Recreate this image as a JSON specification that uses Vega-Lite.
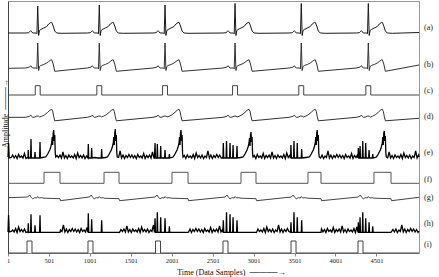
{
"$schema": "https://vega.github.io/schema/vega-lite/v6.json",
"width": 411, "height": 252,
"autosize": {"type": "none"},
"padding": {"left": 8, "top": 1, "right": 20, "bottom": 24},
"background": "white",
"config": {"view": {"stroke": "#999", "strokeWidth": 1}, "axis": {"labelFont": "Liberation Serif", "titleFont": "Liberation Serif", "grid": false}, "text": {"font": "Liberation Serif"}},
"datasets": {
"a": [{"t":1,"v":220},
{"t":217,"v":220},{"t":254,"v":220.3},{"t":266,"v":221.2},{"t":279,"v":222.3},{"t":291,"v":221.2},{"t":303,"v":220},{"t":346,"v":220},{"t":354,"v":219.2},{"t":364,"v":247},{"t":375,"v":217.5},{"t":386,"v":222.5},{"t":401,"v":223.5},{"t":437,"v":225},{"t":474,"v":226.5},{"t":498,"v":229},{"t":523,"v":230.5},{"t":535,"v":230.7},{"t":553,"v":227},{"t":572,"v":222},{"t":596,"v":220},{"t":657,"v":219.7},
{"t":969,"v":220},{"t":1006,"v":220.3},{"t":1018,"v":221.2},{"t":1031,"v":222.3},{"t":1043,"v":221.2},{"t":1055,"v":220},{"t":1098,"v":220},{"t":1106,"v":219.2},{"t":1116,"v":248},{"t":1127,"v":217.5},{"t":1138,"v":222.5},{"t":1153,"v":223.5},{"t":1189,"v":225},{"t":1226,"v":226.5},{"t":1250,"v":229},{"t":1275,"v":230.5},{"t":1287,"v":230.7},{"t":1305,"v":227},{"t":1324,"v":222},{"t":1348,"v":220},{"t":1409,"v":219.7},
{"t":1772,"v":220},{"t":1809,"v":220.3},{"t":1821,"v":221.2},{"t":1834,"v":222.3},{"t":1846,"v":221.2},{"t":1858,"v":220},{"t":1901,"v":220},{"t":1909,"v":219.2},{"t":1919,"v":248},{"t":1930,"v":217.5},{"t":1941,"v":222.5},{"t":1956,"v":223.5},{"t":1992,"v":225},{"t":2029,"v":226.5},{"t":2053,"v":229},{"t":2078,"v":230.5},{"t":2090,"v":230.7},{"t":2108,"v":227},{"t":2127,"v":222},{"t":2151,"v":220},{"t":2212,"v":219.7},
{"t":2627,"v":220},{"t":2664,"v":220.3},{"t":2676,"v":221.2},{"t":2689,"v":222.3},{"t":2701,"v":221.2},{"t":2713,"v":220},{"t":2756,"v":220},{"t":2764,"v":219.2},{"t":2774,"v":249.5},{"t":2785,"v":217.5},{"t":2796,"v":222.5},{"t":2811,"v":223.5},{"t":2847,"v":225},{"t":2884,"v":226.5},{"t":2908,"v":229},{"t":2933,"v":230.5},{"t":2945,"v":230.7},{"t":2963,"v":227},{"t":2982,"v":222},{"t":3006,"v":220},{"t":3067,"v":219.7},
{"t":3436,"v":220},{"t":3473,"v":220.3},{"t":3485,"v":221.2},{"t":3498,"v":222.3},{"t":3510,"v":221.2},{"t":3522,"v":220},{"t":3565,"v":220},{"t":3573,"v":219.2},{"t":3583,"v":249.5},{"t":3594,"v":217.5},{"t":3605,"v":222.5},{"t":3620,"v":223.5},{"t":3656,"v":225},{"t":3693,"v":226.5},{"t":3717,"v":229},{"t":3742,"v":230.5},{"t":3754,"v":230.7},{"t":3772,"v":227},{"t":3791,"v":222},{"t":3815,"v":220},{"t":3876,"v":219.7},
{"t":4255,"v":220},{"t":4292,"v":220.3},{"t":4304,"v":221.2},{"t":4317,"v":222.3},{"t":4329,"v":221.2},{"t":4341,"v":220},{"t":4384,"v":220},{"t":4392,"v":219.2},{"t":4402,"v":249.5},{"t":4413,"v":217.5},{"t":4424,"v":222.5},{"t":4439,"v":223.5},{"t":4475,"v":225},{"t":4512,"v":226.5},{"t":4536,"v":229},{"t":4561,"v":230.5},{"t":4573,"v":230.7},{"t":4591,"v":227},{"t":4610,"v":222},{"t":4634,"v":220},{"t":4695,"v":219.7},
{"t":5021,"v":220.5}],
"b": [{"t":1,"v":184.7},
{"t":217,"v":185},{"t":266,"v":186},{"t":279,"v":187.3},{"t":291,"v":186},{"t":303,"v":185},{"t":346,"v":185},{"t":354,"v":184.2},{"t":364,"v":210},{"t":375,"v":182.5},{"t":386,"v":186.5},{"t":401,"v":187.5},{"t":437,"v":188.5},{"t":474,"v":190},{"t":498,"v":191.5},{"t":523,"v":193},{"t":535,"v":193.2},{"t":553,"v":189},{"t":572,"v":181.7},
{"t":969,"v":185},{"t":1018,"v":186},{"t":1031,"v":187.3},{"t":1043,"v":186},{"t":1055,"v":185},{"t":1098,"v":185},{"t":1106,"v":184.2},{"t":1116,"v":210},{"t":1127,"v":182.5},{"t":1138,"v":186.5},{"t":1153,"v":187.5},{"t":1189,"v":188.5},{"t":1226,"v":190},{"t":1250,"v":191.5},{"t":1275,"v":193},{"t":1287,"v":193.2},{"t":1305,"v":189},{"t":1324,"v":181.7},
{"t":1772,"v":185},{"t":1821,"v":186},{"t":1834,"v":187.3},{"t":1846,"v":186},{"t":1858,"v":185},{"t":1901,"v":185},{"t":1909,"v":184.2},{"t":1919,"v":210},{"t":1930,"v":182.5},{"t":1941,"v":186.5},{"t":1956,"v":187.5},{"t":1992,"v":188.5},{"t":2029,"v":190},{"t":2053,"v":191.5},{"t":2078,"v":193},{"t":2090,"v":193.2},{"t":2108,"v":189},{"t":2127,"v":181.7},
{"t":2627,"v":185},{"t":2676,"v":186},{"t":2689,"v":187.3},{"t":2701,"v":186},{"t":2713,"v":185},{"t":2756,"v":185},{"t":2764,"v":184.2},{"t":2774,"v":210},{"t":2785,"v":182.5},{"t":2796,"v":186.5},{"t":2811,"v":187.5},{"t":2847,"v":188.5},{"t":2884,"v":190},{"t":2908,"v":191.5},{"t":2933,"v":193},{"t":2945,"v":193.2},{"t":2963,"v":189},{"t":2982,"v":181.7},
{"t":3436,"v":185},{"t":3485,"v":186},{"t":3498,"v":187.3},{"t":3510,"v":186},{"t":3522,"v":185},{"t":3565,"v":185},{"t":3573,"v":184.2},{"t":3583,"v":210},{"t":3594,"v":182.5},{"t":3605,"v":186.5},{"t":3620,"v":187.5},{"t":3656,"v":188.5},{"t":3693,"v":190},{"t":3717,"v":191.5},{"t":3742,"v":193},{"t":3754,"v":193.2},{"t":3772,"v":189},{"t":3791,"v":181.7},
{"t":4255,"v":185},{"t":4304,"v":186},{"t":4317,"v":187.3},{"t":4329,"v":186},{"t":4341,"v":185},{"t":4384,"v":185},{"t":4392,"v":184.2},{"t":4402,"v":210},{"t":4413,"v":182.5},{"t":4424,"v":186.5},{"t":4439,"v":187.5},{"t":4475,"v":188.5},{"t":4512,"v":190},{"t":4536,"v":191.5},{"t":4561,"v":193},{"t":4573,"v":193.2},{"t":4591,"v":189},{"t":4610,"v":181.7},
{"t":5021,"v":188}],
"c": [{"t":1,"v":158},{"t":334,"v":158},{"t":334,"v":167.3},{"t":394,"v":167.3},{"t":394,"v":158},{"t":1086,"v":158},{"t":1086,"v":167.3},{"t":1146,"v":167.3},{"t":1146,"v":158},{"t":1889,"v":158},{"t":1889,"v":167.3},{"t":1949,"v":167.3},{"t":1949,"v":158},{"t":2744,"v":158},{"t":2744,"v":167.3},{"t":2804,"v":167.3},{"t":2804,"v":158},{"t":3553,"v":158},{"t":3553,"v":167.3},{"t":3613,"v":167.3},{"t":3613,"v":158},{"t":4372,"v":158},{"t":4372,"v":167.3},{"t":4432,"v":167.3},{"t":4432,"v":158},{"t":5021,"v":158}],
"d": [{"t":1,"v":135.7},
{"t":217,"v":135.7},{"t":266,"v":136.7},{"t":279,"v":138},{"t":291,"v":136.5},{"t":303,"v":135.7},{"t":327,"v":135.9},{"t":352,"v":136.9},{"t":376,"v":136.9},{"t":388,"v":136},{"t":413,"v":136.7},{"t":449,"v":138.2},{"t":486,"v":140.7},{"t":511,"v":142.7},{"t":535,"v":143.7},{"t":547,"v":141.7},{"t":559,"v":136.7},{"t":572,"v":132.2},
{"t":969,"v":135.7},{"t":1018,"v":136.7},{"t":1031,"v":138},{"t":1043,"v":136.5},{"t":1055,"v":135.7},{"t":1079,"v":135.9},{"t":1104,"v":136.9},{"t":1128,"v":136.9},{"t":1140,"v":136},{"t":1165,"v":136.7},{"t":1201,"v":138.2},{"t":1238,"v":140.7},{"t":1263,"v":142.7},{"t":1287,"v":143.7},{"t":1299,"v":141.7},{"t":1311,"v":136.7},{"t":1324,"v":132.2},
{"t":1772,"v":135.7},{"t":1821,"v":136.7},{"t":1834,"v":138},{"t":1846,"v":136.5},{"t":1858,"v":135.7},{"t":1882,"v":135.9},{"t":1907,"v":136.9},{"t":1931,"v":136.9},{"t":1943,"v":136},{"t":1968,"v":136.7},{"t":2004,"v":138.2},{"t":2041,"v":140.7},{"t":2066,"v":142.7},{"t":2090,"v":143.7},{"t":2102,"v":141.7},{"t":2114,"v":136.7},{"t":2127,"v":132.2},
{"t":2627,"v":135.7},{"t":2676,"v":136.7},{"t":2689,"v":138},{"t":2701,"v":136.5},{"t":2713,"v":135.7},{"t":2737,"v":135.9},{"t":2762,"v":136.9},{"t":2786,"v":136.9},{"t":2798,"v":136},{"t":2823,"v":136.7},{"t":2859,"v":138.2},{"t":2896,"v":140.7},{"t":2921,"v":142.7},{"t":2945,"v":143.7},{"t":2957,"v":141.7},{"t":2969,"v":136.7},{"t":2982,"v":132.2},
{"t":3436,"v":135.7},{"t":3485,"v":136.7},{"t":3498,"v":138},{"t":3510,"v":136.5},{"t":3522,"v":135.7},{"t":3546,"v":135.9},{"t":3571,"v":136.9},{"t":3595,"v":136.9},{"t":3607,"v":136},{"t":3632,"v":136.7},{"t":3668,"v":138.2},{"t":3705,"v":140.7},{"t":3730,"v":142.7},{"t":3754,"v":143.7},{"t":3766,"v":141.7},{"t":3778,"v":136.7},{"t":3791,"v":132.2},
{"t":4255,"v":135.7},{"t":4304,"v":136.7},{"t":4317,"v":138},{"t":4329,"v":136.5},{"t":4341,"v":135.7},{"t":4365,"v":135.9},{"t":4390,"v":136.9},{"t":4414,"v":136.9},{"t":4426,"v":136},{"t":4451,"v":136.7},{"t":4487,"v":138.2},{"t":4524,"v":140.7},{"t":4549,"v":142.7},{"t":4573,"v":143.7},{"t":4585,"v":141.7},{"t":4597,"v":136.7},{"t":4610,"v":132.2},
{"t":5021,"v":134.7}],
"e": [{"t":1,"v":96},{"t":8,"v":110},{"t":16,"v":95},
{"t":40,"v":95.5},{"t":58,"v":98},{"t":76,"v":95},{"t":94,"v":97.5},{"t":112,"v":94.5},{"t":130,"v":98.5},{"t":148,"v":95.5},{"t":166,"v":97},{"t":184,"v":95},{"t":202,"v":99.5},{"t":220,"v":94.5},
{"t":238,"v":95.5},{"t":244,"v":95},{"t":249,"v":103},{"t":254,"v":95},{"t":277,"v":95},{"t":282,"v":114},{"t":287,"v":95},{"t":326,"v":95},{"t":331,"v":101},{"t":336,"v":95},{"t":387,"v":95},{"t":392,"v":111},{"t":397,"v":95},{"t":420,"v":95.5},
{"t":462,"v":96},{"t":486,"v":99},{"t":498,"v":101},{"t":511,"v":103},{"t":523,"v":106},{"t":535,"v":110},{"t":541,"v":116},{"t":547,"v":108},{"t":553,"v":120},{"t":559,"v":123},{"t":566,"v":112},{"t":572,"v":118},{"t":578,"v":100},{"t":584,"v":96},
{"t":600,"v":97.5},{"t":618,"v":95.5},{"t":636,"v":98},{"t":654,"v":95},{"t":672,"v":101},{"t":690,"v":95},{"t":708,"v":97.5},{"t":726,"v":94.5},{"t":744,"v":98},{"t":762,"v":95.5},{"t":780,"v":97},{"t":798,"v":95},{"t":816,"v":98.5},{"t":834,"v":94.5},{"t":852,"v":100},{"t":870,"v":95.5},{"t":888,"v":97.5},{"t":906,"v":95},{"t":924,"v":98},{"t":942,"v":94.5},{"t":960,"v":97},
{"t":977,"v":95},{"t":982,"v":109},{"t":987,"v":95},{"t":1018,"v":95},{"t":1023,"v":105},{"t":1028,"v":95},{"t":1060,"v":95.5},{"t":1100,"v":95},{"t":1140,"v":95},{"t":1145,"v":104},{"t":1150,"v":95},{"t":1190,"v":95.5},
{"t":1214,"v":96},{"t":1238,"v":99},{"t":1250,"v":101},{"t":1263,"v":103},{"t":1275,"v":106},{"t":1287,"v":110},{"t":1293,"v":116},{"t":1299,"v":108},{"t":1305,"v":120},{"t":1311,"v":124},{"t":1318,"v":112},{"t":1324,"v":118},{"t":1330,"v":100},{"t":1336,"v":96},
{"t":1352,"v":95.5},{"t":1370,"v":102},{"t":1388,"v":95},{"t":1406,"v":98},{"t":1424,"v":94.5},{"t":1442,"v":97.5},{"t":1460,"v":95.5},{"t":1478,"v":98.5},{"t":1496,"v":95.5},{"t":1514,"v":98},{"t":1532,"v":95},{"t":1550,"v":97.5},{"t":1568,"v":94.5},{"t":1586,"v":98.5},{"t":1604,"v":95.5},{"t":1622,"v":97},{"t":1640,"v":95},{"t":1658,"v":99.5},{"t":1676,"v":94.5},{"t":1694,"v":97.5},{"t":1712,"v":95.5},{"t":1730,"v":98},{"t":1748,"v":95},{"t":1766,"v":101},{"t":1784,"v":95},
{"t":1790,"v":95},{"t":1797,"v":110},{"t":1802,"v":95},{"t":1820,"v":95},{"t":1825,"v":109},{"t":1830,"v":95},{"t":1861,"v":95},{"t":1866,"v":107},{"t":1871,"v":95},{"t":1914,"v":95},{"t":1919,"v":103},{"t":1924,"v":95},{"t":1967,"v":95},{"t":1972,"v":99},{"t":1977,"v":95},{"t":2000,"v":95.5},
{"t":2017,"v":96},{"t":2041,"v":99},{"t":2053,"v":101},{"t":2066,"v":103},{"t":2078,"v":106},{"t":2090,"v":110},{"t":2096,"v":116},{"t":2102,"v":108},{"t":2108,"v":120},{"t":2114,"v":123},{"t":2121,"v":112},{"t":2127,"v":118},{"t":2133,"v":100},{"t":2139,"v":96},
{"t":2155,"v":97.5},{"t":2173,"v":94.5},{"t":2191,"v":98},{"t":2209,"v":95.5},{"t":2227,"v":97},{"t":2245,"v":95},{"t":2263,"v":98.5},{"t":2281,"v":94.5},{"t":2299,"v":100},{"t":2317,"v":95.5},{"t":2335,"v":97.5},{"t":2353,"v":95},{"t":2371,"v":98},{"t":2389,"v":94.5},{"t":2407,"v":97},{"t":2425,"v":95.5},{"t":2443,"v":102},{"t":2461,"v":95},{"t":2479,"v":98},{"t":2497,"v":94.5},{"t":2515,"v":97.5},{"t":2533,"v":95.5},{"t":2551,"v":98.5},{"t":2569,"v":95.5},{"t":2587,"v":98},{"t":2605,"v":95},
{"t":2626,"v":95},{"t":2631,"v":110},{"t":2636,"v":95},{"t":2665,"v":95},{"t":2670,"v":112},{"t":2675,"v":95},{"t":2708,"v":95},{"t":2713,"v":110},{"t":2718,"v":95},{"t":2745,"v":95},{"t":2750,"v":108},{"t":2755,"v":95},{"t":2793,"v":95},{"t":2798,"v":107},{"t":2803,"v":95},{"t":2840,"v":95.5},
{"t":2872,"v":96},{"t":2896,"v":99},{"t":2908,"v":101},{"t":2921,"v":103},{"t":2933,"v":106},{"t":2945,"v":110},{"t":2951,"v":115},{"t":2957,"v":107},{"t":2963,"v":118},{"t":2969,"v":121},{"t":2976,"v":111},{"t":2982,"v":116},{"t":2988,"v":100},{"t":2994,"v":96},
{"t":3010,"v":97.5},{"t":3028,"v":94.5},{"t":3046,"v":98.5},{"t":3064,"v":95.5},{"t":3082,"v":97},{"t":3100,"v":95},{"t":3118,"v":99.5},{"t":3136,"v":94.5},{"t":3154,"v":97.5},{"t":3172,"v":95.5},{"t":3190,"v":98},{"t":3208,"v":95},{"t":3226,"v":101},{"t":3244,"v":95},{"t":3262,"v":97.5},{"t":3280,"v":94.5},{"t":3298,"v":98},{"t":3316,"v":95.5},{"t":3334,"v":97},{"t":3352,"v":95},{"t":3370,"v":98.5},{"t":3388,"v":94.5},{"t":3406,"v":100},{"t":3424,"v":95.5},{"t":3442,"v":97.5},
{"t":3452,"v":95},{"t":3457,"v":108},{"t":3462,"v":95},{"t":3489,"v":95},{"t":3494,"v":112},{"t":3499,"v":95},{"t":3529,"v":95},{"t":3534,"v":110},{"t":3539,"v":95},{"t":3583,"v":95},{"t":3588,"v":104},{"t":3593,"v":95},{"t":3640,"v":95.5},
{"t":3681,"v":96},{"t":3705,"v":99},{"t":3717,"v":101},{"t":3730,"v":103},{"t":3742,"v":106},{"t":3754,"v":110},{"t":3760,"v":116},{"t":3766,"v":108},{"t":3772,"v":120},{"t":3778,"v":123},{"t":3785,"v":112},{"t":3791,"v":118},{"t":3797,"v":100},{"t":3803,"v":96},
{"t":3819,"v":95},{"t":3837,"v":98},{"t":3855,"v":94.5},{"t":3873,"v":97},{"t":3891,"v":95.5},{"t":3909,"v":102},{"t":3927,"v":95},{"t":3945,"v":98},{"t":3963,"v":94.5},{"t":3981,"v":97.5},{"t":3999,"v":95.5},{"t":4017,"v":98.5},{"t":4035,"v":95.5},{"t":4053,"v":98},{"t":4071,"v":95},{"t":4089,"v":97.5},{"t":4107,"v":94.5},{"t":4125,"v":98.5},{"t":4143,"v":95.5},{"t":4161,"v":97},{"t":4179,"v":95},{"t":4197,"v":99.5},{"t":4215,"v":94.5},{"t":4233,"v":97.5},{"t":4251,"v":95.5},{"t":4269,"v":98},
{"t":4275,"v":95},{"t":4280,"v":105},{"t":4285,"v":95},{"t":4296,"v":95},{"t":4301,"v":107},{"t":4306,"v":95},{"t":4329,"v":95},{"t":4334,"v":112},{"t":4339,"v":95},{"t":4365,"v":95},{"t":4370,"v":110},{"t":4375,"v":95},{"t":4406,"v":95},{"t":4411,"v":103},{"t":4416,"v":95},{"t":4451,"v":95},{"t":4456,"v":99},{"t":4461,"v":95},{"t":4490,"v":95.5},
{"t":4500,"v":96},{"t":4524,"v":99},{"t":4536,"v":101},{"t":4549,"v":103},{"t":4561,"v":106},{"t":4573,"v":110},{"t":4579,"v":116},{"t":4585,"v":108},{"t":4591,"v":120},{"t":4597,"v":122},{"t":4604,"v":112},{"t":4610,"v":117},{"t":4616,"v":100},{"t":4622,"v":96},
{"t":4638,"v":95},{"t":4656,"v":101},{"t":4674,"v":95},{"t":4692,"v":97.5},{"t":4710,"v":94.5},{"t":4728,"v":98},{"t":4746,"v":95.5},{"t":4764,"v":97},{"t":4782,"v":95},{"t":4800,"v":98.5},{"t":4818,"v":94.5},{"t":4836,"v":100},{"t":4854,"v":95.5},{"t":4872,"v":97.5},{"t":4890,"v":95},{"t":4908,"v":98},{"t":4926,"v":94.5},{"t":4944,"v":97},{"t":4962,"v":95.5},{"t":4980,"v":102},{"t":4998,"v":95},{"t":5016,"v":98},
{"t":5021,"v":96}],
"f": [{"t":1,"v":69.7},{"t":441,"v":69.7},{"t":441,"v":80.7},{"t":636,"v":80.7},{"t":636,"v":69.7},{"t":1174,"v":69.7},{"t":1174,"v":80.7},{"t":1357,"v":80.7},{"t":1357,"v":69.7},{"t":2004,"v":69.7},{"t":2004,"v":80.7},{"t":2200,"v":80.7},{"t":2200,"v":69.7},{"t":2847,"v":69.7},{"t":2847,"v":80.7},{"t":3030,"v":80.7},{"t":3030,"v":69.7},{"t":3665,"v":69.7},{"t":3665,"v":80.7},{"t":3824,"v":80.7},{"t":3824,"v":69.7},{"t":4471,"v":69.7},{"t":4471,"v":80.7},{"t":4679,"v":80.7},{"t":4679,"v":69.7},{"t":5021,"v":69.7}],
"g": [{"t":1,"v":55.3},
{"t":242,"v":56},{"t":266,"v":58},{"t":285,"v":55.5},{"t":303,"v":54.2},{"t":327,"v":55.3},{"t":352,"v":55},{"t":364,"v":56.5},{"t":382,"v":55},{"t":413,"v":55.3},{"t":441,"v":54.8},{"t":636,"v":54.3},{"t":642,"v":52.3},
{"t":994,"v":56},{"t":1018,"v":58},{"t":1037,"v":55.5},{"t":1055,"v":54.2},{"t":1079,"v":55.3},{"t":1104,"v":55},{"t":1116,"v":56.5},{"t":1134,"v":55},{"t":1165,"v":55.3},{"t":1174,"v":54.8},{"t":1357,"v":54.3},{"t":1363,"v":52.3},
{"t":1797,"v":56},{"t":1821,"v":58},{"t":1840,"v":55.5},{"t":1858,"v":54.2},{"t":1882,"v":55.3},{"t":1907,"v":55},{"t":1919,"v":56.5},{"t":1937,"v":55},{"t":1968,"v":55.3},{"t":2004,"v":54.8},{"t":2200,"v":54.3},{"t":2206,"v":52.3},
{"t":2652,"v":56},{"t":2676,"v":58},{"t":2695,"v":55.5},{"t":2713,"v":54.2},{"t":2737,"v":55.3},{"t":2762,"v":55},{"t":2774,"v":56.5},{"t":2792,"v":55},{"t":2823,"v":55.3},{"t":2847,"v":54.8},{"t":3030,"v":54.3},{"t":3036,"v":52.3},
{"t":3461,"v":56},{"t":3485,"v":58},{"t":3504,"v":55.5},{"t":3522,"v":54.2},{"t":3546,"v":55.3},{"t":3571,"v":55},{"t":3583,"v":56.5},{"t":3601,"v":55},{"t":3632,"v":55.3},{"t":3665,"v":54.8},{"t":3824,"v":54.3},{"t":3830,"v":52.3},
{"t":4280,"v":56},{"t":4304,"v":58},{"t":4323,"v":55.5},{"t":4341,"v":54.2},{"t":4365,"v":55.3},{"t":4390,"v":55},{"t":4402,"v":56.5},{"t":4420,"v":55},{"t":4451,"v":55.3},{"t":4471,"v":54.8},{"t":4679,"v":54.3},{"t":4685,"v":52.3},
{"t":5021,"v":55.7}],
"h": [{"t":1,"v":21},{"t":8,"v":38},{"t":16,"v":21},
{"t":40,"v":21.5},{"t":58,"v":23},{"t":76,"v":21},{"t":94,"v":24.5},{"t":112,"v":20.5},{"t":130,"v":26},{"t":148,"v":21.5},{"t":166,"v":23.5},{"t":184,"v":21},{"t":202,"v":24},{"t":220,"v":20.5},
{"t":238,"v":21},{"t":244,"v":20.7},{"t":249,"v":29.7},{"t":254,"v":20.7},{"t":277,"v":20.7},{"t":282,"v":38.7},{"t":287,"v":20.7},{"t":326,"v":20.7},{"t":331,"v":27.7},{"t":336,"v":20.7},{"t":387,"v":20.7},{"t":392,"v":37.7},{"t":397,"v":20.7},{"t":636,"v":20.7},
{"t":642,"v":23},{"t":660,"v":21.5},{"t":678,"v":28},{"t":696,"v":21},{"t":714,"v":24},{"t":732,"v":20.5},{"t":750,"v":23.5},{"t":768,"v":21.5},{"t":786,"v":24.5},{"t":804,"v":21.5},{"t":822,"v":24},{"t":840,"v":21},{"t":858,"v":23.5},{"t":876,"v":20.5},{"t":894,"v":24.5},{"t":912,"v":21.5},{"t":930,"v":23},{"t":948,"v":21},{"t":966,"v":25.5},
{"t":977,"v":20.7},{"t":982,"v":39.7},{"t":987,"v":20.7},{"t":1018,"v":20.7},{"t":1023,"v":33.7},{"t":1028,"v":20.7},{"t":1140,"v":20.7},{"t":1145,"v":32.7},{"t":1150,"v":20.7},{"t":1357,"v":20.7},
{"t":1363,"v":20.5},{"t":1381,"v":23.5},{"t":1399,"v":21.5},{"t":1417,"v":24},{"t":1435,"v":21},{"t":1453,"v":27},{"t":1471,"v":21},{"t":1489,"v":23.5},{"t":1507,"v":20.5},{"t":1525,"v":24},{"t":1543,"v":21.5},{"t":1561,"v":23},{"t":1579,"v":21},{"t":1597,"v":24.5},{"t":1615,"v":20.5},{"t":1633,"v":26},{"t":1651,"v":21.5},{"t":1669,"v":23.5},{"t":1687,"v":21},{"t":1705,"v":24},{"t":1723,"v":20.5},{"t":1741,"v":23},{"t":1759,"v":21.5},{"t":1777,"v":28},
{"t":1790,"v":20.7},{"t":1797,"v":34.7},{"t":1802,"v":20.7},{"t":1820,"v":20.7},{"t":1825,"v":40.7},{"t":1830,"v":20.7},{"t":1861,"v":20.7},{"t":1866,"v":35.7},{"t":1871,"v":20.7},{"t":1914,"v":20.7},{"t":1919,"v":34.7},{"t":1924,"v":20.7},{"t":1967,"v":20.7},{"t":1972,"v":26.7},{"t":1977,"v":20.7},{"t":2200,"v":20.7},
{"t":2206,"v":21},{"t":2224,"v":24},{"t":2242,"v":20.5},{"t":2260,"v":23.5},{"t":2278,"v":21.5},{"t":2296,"v":24.5},{"t":2314,"v":21.5},{"t":2332,"v":24},{"t":2350,"v":21},{"t":2368,"v":23.5},{"t":2386,"v":20.5},{"t":2404,"v":24.5},{"t":2422,"v":21.5},{"t":2440,"v":23},{"t":2458,"v":21},{"t":2476,"v":25.5},{"t":2494,"v":20.5},{"t":2512,"v":23.5},{"t":2530,"v":21.5},{"t":2548,"v":24},{"t":2566,"v":21},{"t":2584,"v":27},{"t":2602,"v":21},{"t":2620,"v":23.5},
{"t":2626,"v":20.7},{"t":2631,"v":32.7},{"t":2636,"v":20.7},{"t":2665,"v":20.7},{"t":2670,"v":40.7},{"t":2675,"v":20.7},{"t":2708,"v":20.7},{"t":2713,"v":38.7},{"t":2718,"v":20.7},{"t":2745,"v":20.7},{"t":2750,"v":35.7},{"t":2755,"v":20.7},{"t":2793,"v":20.7},{"t":2798,"v":32.7},{"t":2803,"v":20.7},{"t":3030,"v":20.7},
{"t":3036,"v":20.5},{"t":3054,"v":24},{"t":3072,"v":21.5},{"t":3090,"v":23},{"t":3108,"v":21},{"t":3126,"v":24.5},{"t":3144,"v":20.5},{"t":3162,"v":26},{"t":3180,"v":21.5},{"t":3198,"v":23.5},{"t":3216,"v":21},{"t":3234,"v":24},{"t":3252,"v":20.5},{"t":3270,"v":23},{"t":3288,"v":21.5},{"t":3306,"v":28},{"t":3324,"v":21},{"t":3342,"v":24},{"t":3360,"v":20.5},{"t":3378,"v":23.5},{"t":3396,"v":21.5},{"t":3414,"v":24.5},{"t":3432,"v":21.5},
{"t":3452,"v":20.7},{"t":3457,"v":30.7},{"t":3462,"v":20.7},{"t":3489,"v":20.7},{"t":3494,"v":40.7},{"t":3499,"v":20.7},{"t":3529,"v":20.7},{"t":3534,"v":35.7},{"t":3539,"v":20.7},{"t":3583,"v":20.7},{"t":3588,"v":32.7},{"t":3593,"v":20.7},{"t":3824,"v":20.7},
{"t":3830,"v":24},{"t":3848,"v":21},{"t":3866,"v":23.5},{"t":3884,"v":20.5},{"t":3902,"v":24.5},{"t":3920,"v":21.5},{"t":3938,"v":23},{"t":3956,"v":21},{"t":3974,"v":25.5},{"t":3992,"v":20.5},{"t":4010,"v":23.5},{"t":4028,"v":21.5},{"t":4046,"v":24},{"t":4064,"v":21},{"t":4082,"v":27},{"t":4100,"v":21},{"t":4118,"v":23.5},{"t":4136,"v":20.5},{"t":4154,"v":24},{"t":4172,"v":21.5},{"t":4190,"v":23},{"t":4208,"v":21},{"t":4226,"v":24.5},{"t":4244,"v":20.5},{"t":4262,"v":26},
{"t":4275,"v":20.7},{"t":4280,"v":30.7},{"t":4285,"v":20.7},{"t":4296,"v":20.7},{"t":4301,"v":35.7},{"t":4306,"v":20.7},{"t":4329,"v":20.7},{"t":4334,"v":40.7},{"t":4339,"v":20.7},{"t":4365,"v":20.7},{"t":4370,"v":34.7},{"t":4375,"v":20.7},{"t":4406,"v":20.7},{"t":4411,"v":30.7},{"t":4416,"v":20.7},{"t":4451,"v":20.7},{"t":4456,"v":26.7},{"t":4461,"v":20.7},{"t":4679,"v":20.7},
{"t":4685,"v":21.5},{"t":4703,"v":23.5},{"t":4721,"v":21},{"t":4739,"v":24},{"t":4757,"v":20.5},{"t":4775,"v":23},{"t":4793,"v":21.5},{"t":4811,"v":28},{"t":4829,"v":21},{"t":4847,"v":24},{"t":4865,"v":20.5},{"t":4883,"v":23.5},{"t":4901,"v":21.5},{"t":4919,"v":24.5},{"t":4937,"v":21.5},{"t":4955,"v":24},{"t":4973,"v":21},{"t":4991,"v":23.5},{"t":5009,"v":20.5},
{"t":5021,"v":22}],
"i": [{"t":1,"v":0},{"t":233,"v":0},{"t":233,"v":12},{"t":294,"v":12},{"t":294,"v":0},{"t":978,"v":0},{"t":978,"v":12},{"t":1039,"v":12},{"t":1039,"v":0},{"t":1803,"v":0},{"t":1803,"v":12},{"t":1864,"v":12},{"t":1864,"v":0},{"t":2627,"v":0},{"t":2627,"v":12},{"t":2688,"v":12},{"t":2688,"v":0},{"t":3458,"v":0},{"t":3458,"v":12},{"t":3519,"v":12},{"t":3519,"v":0},{"t":4276,"v":0},{"t":4276,"v":12},{"t":4337,"v":12},{"t":4337,"v":0},{"t":5021,"v":0}],
"labs": [{"lab":"(a)","v":224.7},{"lab":"(b)","v":188},{"lab":"(c)","v":162.3},{"lab":"(d)","v":135.7},{"lab":"(e)","v":99.7},{"lab":"(f)","v":73},{"lab":"(g)","v":54.7},{"lab":"(h)","v":29},{"lab":"(i)","v":8}]
},
"encoding": {
"x": {"field": "t", "type": "quantitative", "scale": {"domain": [1, 5021], "nice": false, "zero": false},
 "axis": {"values": [1,501,1001,1501,2001,2501,3001,3501,4001,4501], "format": "d", "title": "Time (Data Samples) \u00a0─────→", "tickSize": 3, "labelFontSize": 6.5, "labelPadding": 1, "labelColor": "#222", "titleFontSize": 8, "titleFontWeight": "normal", "titleColor": "#111", "titleX": 223, "titleY": 19, "titleBaseline": "middle", "titleAlign": "center", "domainColor": "#888", "tickColor": "#888", "labelFlush": false}},
"y": {"field": "v", "type": "quantitative", "scale": {"domain": [0, 252], "nice": false, "zero": false},
 "axis": {"labels": false, "ticks": false, "title": "Amplitude \u00a0────→", "titleFontSize": 8, "titleFontWeight": "normal", "titleColor": "#111", "titleX": -3, "titleY": 112, "titleAngle": -90, "titleBaseline": "middle", "titleAlign": "center", "domainColor": "#444"}}
},
"layer": [
{"data": {"name": "a"}, "mark": {"type": "line", "color": "#1a1a1a", "strokeWidth": 1}, "encoding": {"order": {"value": null}}},
{"data": {"name": "b"}, "mark": {"type": "line", "color": "#333", "strokeWidth": 1}, "encoding": {"order": {"value": null}}},
{"data": {"name": "c"}, "mark": {"type": "line", "color": "#444", "strokeWidth": 1}, "encoding": {"order": {"value": null}}},
{"data": {"name": "d"}, "mark": {"type": "line", "color": "#333", "strokeWidth": 1}, "encoding": {"order": {"value": null}}},
{"data": {"name": "e"}, "mark": {"type": "line", "color": "#000", "strokeWidth": 1.3}, "encoding": {"order": {"value": null}}},
{"data": {"name": "f"}, "mark": {"type": "line", "color": "#555", "strokeWidth": 1}, "encoding": {"order": {"value": null}}},
{"data": {"name": "g"}, "mark": {"type": "line", "color": "#444", "strokeWidth": 1}, "encoding": {"order": {"value": null}}},
{"data": {"name": "h"}, "mark": {"type": "line", "color": "#000", "strokeWidth": 1.3}, "encoding": {"order": {"value": null}}},
{"data": {"name": "i"}, "mark": {"type": "line", "color": "#444", "strokeWidth": 1}, "encoding": {"order": {"value": null}}},
{"data": {"name": "labs"}, "mark": {"type": "text", "align": "left", "baseline": "middle", "dx": 5, "fontSize": 8, "color": "#222"}, "encoding": {"x": {"value": "width"}, "text": {"field": "lab", "type": "nominal"}}}
]
}
